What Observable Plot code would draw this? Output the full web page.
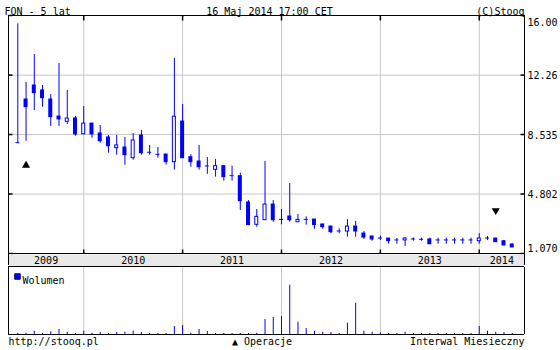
<!DOCTYPE html>
<html>
<head>
<meta charset="utf-8">
<script src="https://cdn.jsdelivr.net/npm/d3@7"></script>
<script src="https://cdn.jsdelivr.net/npm/@observablehq/plot@0.6"></script>
<style>
  html, body { margin: 0; padding: 0; background: white; }
  svg { display: block; }
</style>
</head>
<body>
<div id="chart"></div>
<script>
// ---- Data (monthly candles, FON) ----
const months = [
  "2009-05","2009-06","2009-07","2009-08","2009-09","2009-10","2009-11","2009-12",
  "2010-01","2010-02","2010-03","2010-04","2010-05","2010-06","2010-07","2010-08","2010-09","2010-10","2010-11","2010-12",
  "2011-01","2011-02","2011-03","2011-04","2011-05","2011-06","2011-07","2011-08","2011-09","2011-10","2011-11","2011-12",
  "2012-01","2012-02","2012-03","2012-04","2012-05","2012-06","2012-07","2012-08","2012-09","2012-10","2012-11","2012-12",
  "2013-01","2013-02","2013-03","2013-04","2013-05","2013-06","2013-07","2013-08","2013-09","2013-10","2013-11","2013-12",
  "2014-01","2014-02","2014-03","2014-04","2014-05"
];
const open = [
  7.99,10.73,11.61,11.30,10.73,9.66,9.33,9.54,
  8.55,9.22,8.60,8.35,7.68,7.72,7.05,8.47,7.39,7.26,7.28,6.80,
  9.35,7.11,6.84,6.53,6.32,6.55,5.92,5.92,4.27,2.87,3.16,4.14,
  3.18,3.39,3.03,3.18,3.20,2.89,2.76,2.45,2.45,2.76,2.32,2.14,
  2.01,2.01,1.89,1.89,1.95,1.93,1.95,1.89,1.89,1.89,1.89,1.89,
  1.84,2.01,2.01,1.84,1.63
];
const high = [
  15.48,11.80,13.55,11.61,11.04,12.99,11.30,9.66,
  10.29,9.22,9.10,8.47,8.47,8.35,8.60,8.79,7.85,7.72,7.28,13.30,
  10.42,7.26,7.85,7.09,6.97,6.55,6.55,6.11,4.39,3.83,6.84,4.39,
  3.83,5.46,3.52,3.37,3.20,2.91,2.78,2.62,3.20,3.08,2.45,2.14,
  2.16,2.01,2.01,2.05,2.05,2.03,2.03,2.03,2.03,2.03,2.03,2.03,
  2.31,2.14,2.01,1.89,1.68
];
const low = [
  7.99,8.11,10.04,10.25,9.04,9.04,9.16,8.43,
  8.54,8.30,7.99,7.36,7.24,6.61,6.92,7.24,7.24,7.05,6.61,6.30,
  7.05,6.48,6.30,6.04,5.86,5.61,5.61,3.77,2.85,2.72,3.16,3.03,
  2.87,3.03,3.03,2.85,2.59,2.59,2.31,2.31,2.09,2.09,1.95,1.84,
  1.89,1.65,1.65,1.51,1.84,1.84,1.65,1.65,1.65,1.65,1.65,1.65,
  1.65,1.89,1.78,1.57,1.45
];
const close = [
  7.99,10.25,11.13,10.81,9.62,9.48,9.54,8.54,
  9.22,8.54,8.11,7.80,7.85,7.24,8.16,7.36,7.39,7.26,6.80,9.65,
  7.05,6.80,6.48,6.53,6.55,5.86,5.92,4.35,2.85,3.37,4.14,3.16,
  3.18,3.16,3.18,3.18,2.85,2.72,2.41,2.45,2.76,2.45,2.07,1.95,
  2.01,1.84,1.89,2.01,1.95,1.93,1.65,1.89,1.89,1.89,1.89,1.89,
  2.01,2.01,1.78,1.57,1.45
];
// volume (relative units)
const volume = [
  13,13,33,13,27,50,23,10,
  33,13,20,10,20,23,33,20,10,10,10,80,
  90,13,50,30,10,10,10,10,10,13,150,170,
  180,493,123,60,33,23,20,10,113,313,33,23,
  17,10,10,23,10,10,10,10,10,10,10,10,
  80,33,23,20,10
];
const yTickValues = [16.00, 12.26, 8.535, 4.802, 1.070];
const yTickLabels = ["16.00", "12.26", "8.535", "4.802", "1.070"];
const years = ["2009", "2010", "2011", "2012", "2013", "2014"];
const buyMonths = ["2009-06"], buyValues = [6.6];
const sellMonths = ["2014-03"], sellValues = [3.77];

// ---- Layout / styling ----
const W = 560;
const mL = 8, mR = 36;
const xDomain = [-1.13, 61.49];
const blue = "#0000ff", grid = "#c8c8c8";
const font = {fontFamily: "'DejaVu Sans Mono', monospace", fontSize: "10px", background: "white", overflow: "visible"};

const candles = months.map((m, i) => ({i, m, open: open[i], high: high[i], low: low[i], close: close[i], volume: volume[i]}));
const idx = m => months.indexOf(m);
const yearStarts = months.map((m, i) => m.endsWith("-01") ? i : null).filter(d => d !== null);
const bounds = [xDomain[0], ...yearStarts, xDomain[1]];
const yearLabels = years.map((y, k) => ({label: y, x: (bounds[k] + bounds[k + 1]) / 2}));
const yTicks = yTickValues.map((v, k) => ({v, label: yTickLabels[k], k}));
const midTicks = yTicks.filter(d => d.k > 0 && d.k < yTicks.length - 1);

const hLine = len => ({draw(ctx) { ctx.moveTo(0, 0); ctx.lineTo(len, 0); }});
const vLine = len => ({draw(ctx) { ctx.moveTo(0, 0); ctx.lineTo(0, len); }});

// ---- Main price panel ----
const main = Plot.plot({
  width: W, height: 254,
  marginTop: 15, marginBottom: 1, marginLeft: mL, marginRight: mR,
  style: font,
  x: {type: "linear", domain: xDomain, axis: null},
  y: {type: "linear", domain: [1.07, 16.00], axis: null},
  marks: [
    Plot.ruleX(yearStarts, {x: d => d, stroke: grid}),
    Plot.ruleY(midTicks, {y: "v", stroke: grid}),
    Plot.frame({stroke: "black"}),
    Plot.dot(yTicks, {y: "v", frameAnchor: "left", symbol: hLine(4), stroke: "black", fill: "none"}),
    Plot.dot(yTicks, {y: "v", frameAnchor: "right", symbol: hLine(-4), stroke: "black", fill: "none"}),
    Plot.dot(yearStarts, {x: d => d, frameAnchor: "top", symbol: vLine(5), stroke: "black", fill: "none"}),
    Plot.dot(yearStarts, {x: d => d, frameAnchor: "bottom", symbol: vLine(-4), stroke: "black", fill: "none"}),
    // wicks
    Plot.ruleX(candles, {x: "i", y1: "low", y2: "high", stroke: blue, strokeWidth: 1}),
    // falling / flat bodies (filled)
    Plot.rect(candles.filter(d => d.close <= d.open), {
      x1: d => d.i - 0.5, x2: d => d.i + 0.5, y1: "open", y2: "close",
      fill: blue, insetLeft: 2.12, insetRight: 2.12, insetTop: -0.5, insetBottom: -0.5
    }),
    // rising bodies (hollow)
    Plot.rect(candles.filter(d => d.close > d.open), {
      x1: d => d.i - 0.5, x2: d => d.i + 0.5, y1: "open", y2: "close",
      fill: "white", stroke: blue, strokeWidth: 1, insetLeft: 2.62, insetRight: 2.62
    }),
    // operation markers
    Plot.dot(buyMonths, {x: d => idx(d), y: (d, k) => buyValues[k], symbol: "triangle", r: 3, fill: "black", stroke: "none"}),
    Plot.dot(sellMonths, {x: d => idx(d), y: (d, k) => sellValues[k], symbol: "triangle", r: 3, rotate: 180, fill: "black", stroke: "none"}),
    // right-hand price labels
    Plot.text(midTicks, {y: "v", text: "label", frameAnchor: "right", dx: 3, dy: 1, textAnchor: "start", fill: "black"}),
    Plot.text(yTicks.filter(d => d.k === 0), {y: "v", text: "label", frameAnchor: "right", dx: 3, dy: 7, textAnchor: "start", fill: "black"}),
    Plot.text(yTicks.filter(d => d.k === yTicks.length - 1), {y: "v", text: "label", frameAnchor: "right", dx: 3, dy: -5, textAnchor: "start", fill: "black"}),
    // header
    Plot.text(["FON - 5 lat"], {frameAnchor: "top-left", dx: -4, dy: -8, textAnchor: "start", fill: "black"}),
    Plot.text(["16 Maj 2014 17:00 CET"], {frameAnchor: "top", dx: 3, dy: -8, fill: "black"}),
    Plot.text(["(C)Stooq"], {frameAnchor: "top-right", dy: -8, textAnchor: "end", fill: "black"})
  ]
});

// ---- Year band ----
const band = Plot.plot({
  width: W, height: 13,
  marginTop: 0, marginBottom: 1, marginLeft: mL, marginRight: mR,
  style: font,
  x: {type: "linear", domain: xDomain, axis: null},
  y: {domain: [0, 1], axis: null},
  marks: [
    Plot.frame({fill: "#e8e8e8", stroke: "none"}),
    Plot.ruleY([0], {stroke: "black"}),
    Plot.ruleX([xDomain[0], xDomain[1]], {x: d => d, stroke: "black", y1: 0, y2: 1, insetTop: -1}),
    Plot.text(yearLabels, {x: "x", text: "label", frameAnchor: "middle", fill: "black", dy: 0})
  ]
});

// ---- Volume panel ----
const vol = Plot.plot({
  width: W, height: 83,
  marginTop: 0, marginBottom: 16, marginLeft: mL, marginRight: mR,
  style: font,
  x: {type: "linear", domain: xDomain, axis: null},
  y: {type: "linear", domain: [0, 670], axis: null},
  marks: [
    Plot.ruleX(yearStarts, {x: d => d, stroke: grid}),
    Plot.ruleX(candles, {x: "i", y1: 0, y2: "volume", stroke: blue, strokeWidth: 1}),
    Plot.ruleX([xDomain[0], xDomain[1]], {x: d => d, stroke: "black"}),
    Plot.ruleY([0], {stroke: "black"}),
    Plot.dot(["Wolumen"], {frameAnchor: "top-left", dx: 9, dy: 9, symbol: "square", r: 3.1, fill: blue, stroke: "#000066", strokeWidth: 1}),
    Plot.text(["Wolumen"], {frameAnchor: "top-left", dx: 14, dy: 9, textAnchor: "start", fill: "black"}),
    Plot.text(["http://stooq.pl"], {frameAnchor: "bottom-left", dy: 10, textAnchor: "start", fill: "black"}),
    Plot.text(["▲ Operacje"], {frameAnchor: "bottom", dx: -4.5, dy: 10, fill: "black"}),
    Plot.text(["Interwal Miesieczny"], {frameAnchor: "bottom-right", dy: 10, textAnchor: "end", fill: "black"})
  ]
});

const root = document.getElementById("chart");
root.append(main, band, vol);
</script>
</body>
</html>
